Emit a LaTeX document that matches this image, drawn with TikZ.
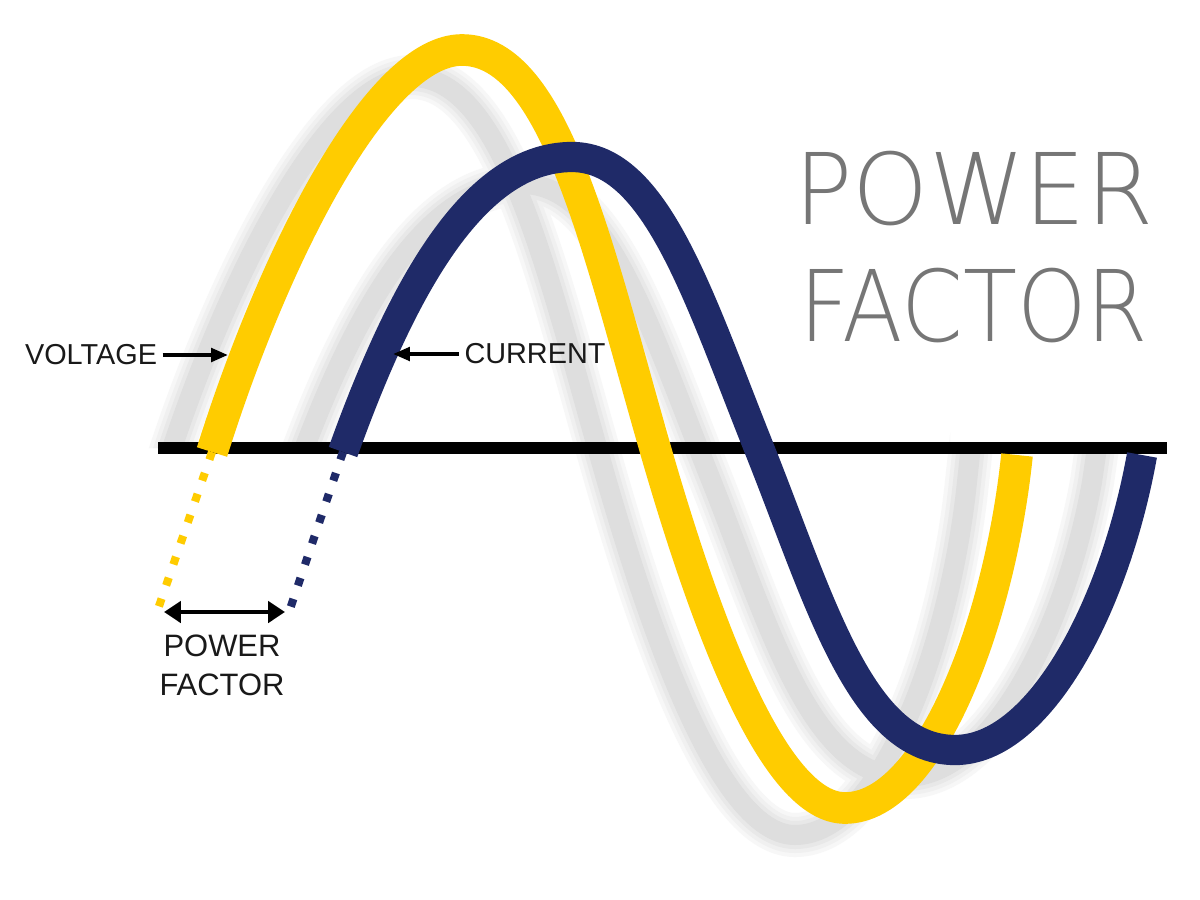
\documentclass[tikz,border=0pt]{standalone}
\usepackage{fontspec}
\setmainfont{Liberation Sans}
\newfontfamily\titlefont{DejaVuSans-ExtraLight.ttf}
\usetikzlibrary{arrows.meta}
\definecolor{yel}{RGB}{255,204,0}
\definecolor{nav}{RGB}{31,42,104}
\definecolor{ttl}{RGB}{118,118,118}
\begin{document}
\begin{tikzpicture}[x=0.01cm,y=-0.01cm,
  wave/.style={line width=8.6pt, line cap=butt, line join=round},
  axisline/.style={line width=3.4pt, black},
  dotline/.style={line width=2.3pt, dash pattern=on 2.3pt off 4pt},
  lbl/.style={font=\fontsize{8.2}{9}\selectfont, inner sep=0pt, text=black!90},
  pflbl/.style={font=\fontsize{8.8}{10}\selectfont, inner sep=0pt, text=black!90},
  ttlbl/.style={font=\titlefont\fontsize{28.1}{30}\selectfont, inner sep=0pt, text=ttl},
  thinarrow/.style={line width=1.1pt, -{Triangle[length=4.8pt,width=3.8pt]}},
  pfarrow/.style={line width=1.4pt, {Triangle[length=4.8pt,width=6pt]}-{Triangle[length=4.8pt,width=6pt]}}
]
\useasboundingbox (0,0) rectangle (1200,900);
\fill[white] (0,0) rectangle (1200,900);

% soft shadow of both waves
\begin{scope}
\clip (0,0) -- (950,0) -- (950,448) -- (1200,448) -- (1200,900) -- (360,900) -- (360,448) -- (0,448) -- cycle;
\begin{scope}[shift={(-50,27)}]
\foreach \w/\c in {44/3,36/6,28/9,20/13}{
\draw[line width=\w*0.2845pt, black!\c, line join=round]
  (185,530) -- (212,452) .. controls (277,246) and (380,50) .. (462,50)
  .. controls (555,50) and (598,250) .. (655,448)
  .. controls (708,632) and (775,808) .. (845,808)
  .. controls (930,808) and (1000,620) .. (1017,455) -- (1023,400);
\draw[line width=\w*0.2845pt, black!\c, line join=round]
  (320,520) -- (343,452) .. controls (397,302) and (469,157) .. (572,157)
  .. controls (656,157) and (699,298) .. (759,448)
  .. controls (819,598) and (860,750) .. (955,750)
  .. controls (1040,750) and (1115,605) .. (1142,455) -- (1150,400);
}
\end{scope}
\end{scope}

% axis
\coordinate (axl) at (158,448);
\coordinate (axr) at (1167,448);
\draw[axisline] (axl) -- (axr);

% key points of the waves
\coordinate (ya) at (212,452);
\coordinate (yp) at (462,50);
\coordinate (yd) at (655,448);
\coordinate (yt) at (845,808);
\coordinate (ye) at (1017,455);
\coordinate (yb) at (157,612);
\coordinate (ba) at (343,452);
\coordinate (bp) at (572,157);
\coordinate (bd) at (759,448);
\coordinate (bt) at (955,750);
\coordinate (be) at (1142,455);
\coordinate (bb) at (289,612);

% voltage wave
\draw[wave, yel, line width=9pt] (ya) .. controls (277,246) and (380,50) .. (yp)
  .. controls (555,50) and (598,250) .. (yd)
  .. controls (708,632) and (775,808) .. (yt)
  .. controls (930,808) and (1000,620) .. (ye);
% current wave
\draw[wave, nav] (ba) .. controls (397,302) and (469,157) .. (bp)
  .. controls (656,157) and (699,298) .. (bd)
  .. controls (819,598) and (860,750) .. (bt)
  .. controls (1040,750) and (1115,605) .. (be);

% dotted extensions
\draw[dotline, yel] (ya) -- (yb);
\draw[dotline, nav] (ba) -- (bb);

% labels
\node[lbl] (volt) at (91,355) {VOLTAGE};
\coordinate (vt) at (228,355);
\draw[thinarrow] (volt.east) ++(5,0) coordinate (vs) (vs) -- (vt);

\node[lbl] (curr) at (535,354) {CURRENT};
\coordinate (ct) at (393,354);
\draw[thinarrow] (curr.west) ++(-5,0) coordinate (cs) (cs) -- (ct);

\coordinate (pfl) at (164,612);
\coordinate (pfr) at (285,612);
\draw[pfarrow] (pfl) -- (pfr);
\node[pflbl] (pf1) at (222,646) {POWER};
\node[pflbl] (pf2) at (222,685) {FACTOR};

% title
\node[ttlbl, xscale=0.98] (t1) at (974,189) {POWER};
\node[ttlbl, xscale=0.895] (t2) at (974,306) {FACTOR};
\end{tikzpicture}
\end{document}
